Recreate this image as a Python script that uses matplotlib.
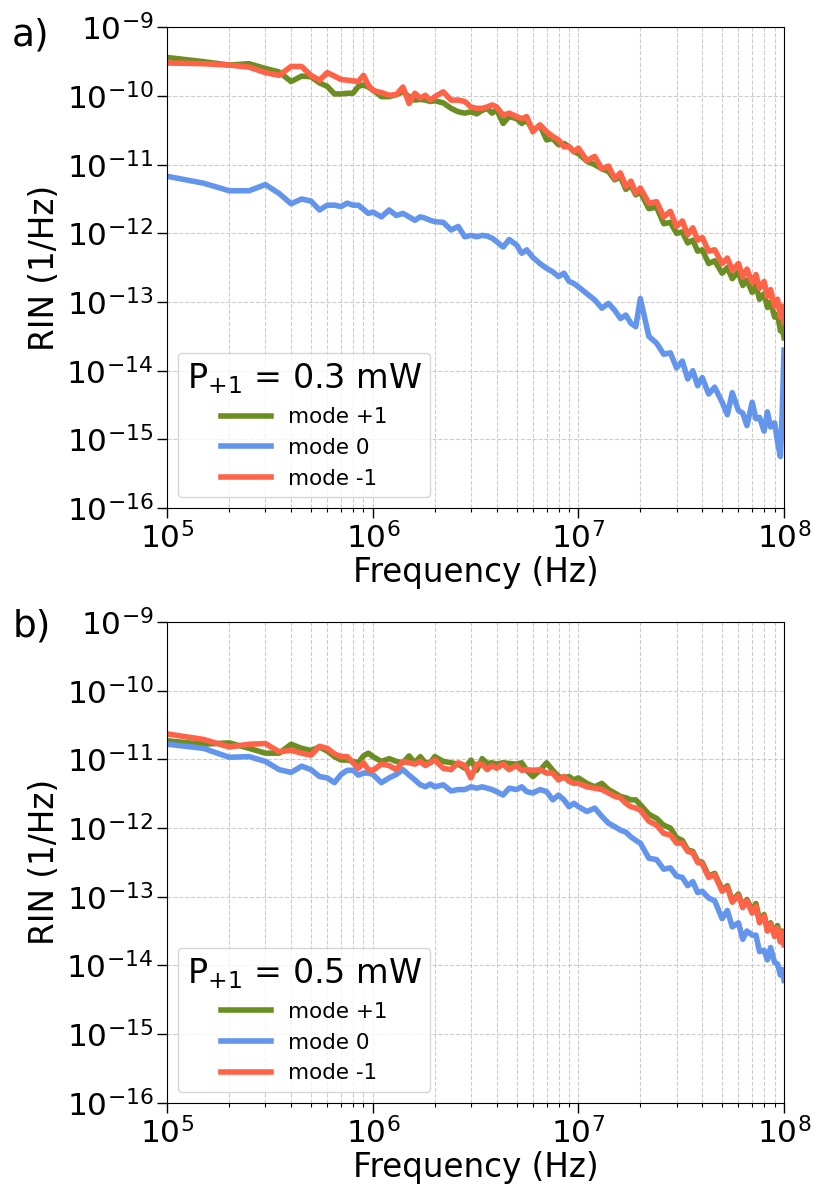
#!/usr/bin/env python3
from __future__ import annotations

import matplotlib

matplotlib.use("Agg")
import matplotlib.pyplot as plt
import numpy as np
from matplotlib.ticker import LogLocator, NullLocator


# Frequency grid in MHz, shared by both panels
FREQ_MHZ = [
    0.1, 0.15, 0.2, 0.25, 0.3, 0.35, 0.4, 0.45, 0.5, 0.55, 0.6, 0.65, 0.7, 0.75, 0.8, 0.85, 0.9, 0.95,
    1.0, 1.1, 1.2, 1.3, 1.4, 1.5, 1.6, 1.7, 1.8, 1.9,
    2.0, 2.2, 2.4, 2.6, 2.8, 3.0, 3.2, 3.4, 3.6, 3.8,
    4.0, 4.3, 4.6, 5.0, 5.3, 5.6, 6.0, 6.5, 7.0, 7.5, 8.0, 8.5, 9.0, 9.5,
    10, 11, 12, 13, 14, 15, 16, 17, 18, 19,
    20, 22, 24, 26, 28, 30, 32, 34, 36, 38,
    40, 43, 46, 50, 53, 56, 60, 63, 66, 70, 73, 76, 80, 83, 86, 90, 93, 96, 98, 100,
]

# log10(RIN), panel a) P+1 = 0.3 mW
A_MODE_P1 = [
    -9.44, -9.50, -9.55, -9.53, -9.60, -9.65, -9.79, -9.71, -9.72, -9.81, -9.86, -9.97, -9.97, -9.96, -9.96, -9.86, -9.84, -9.87,
    -9.91, -10.01, -10.01, -9.98, -9.94, -10.01, -10.06, -10.05, -10.06, -10.08,
    -10.07, -10.10, -10.18, -10.23, -10.25, -10.23, -10.26, -10.21, -10.18, -10.25,
    -10.20, -10.40, -10.30, -10.33, -10.40, -10.35, -10.50, -10.43, -10.64, -10.62, -10.71, -10.69, -10.74, -10.81,
    -10.84, -10.95, -11.00, -11.06, -11.10, -11.22, -11.18, -11.36, -11.30, -11.44,
    -11.40, -11.64, -11.62, -11.86, -11.84, -12.00, -11.98, -12.14, -12.10, -12.26,
    -12.24, -12.44, -12.40, -12.58, -12.50, -12.66, -12.56, -12.76, -12.68, -12.86,
    -12.76, -12.96, -12.88, -13.08, -13.00, -13.22, -13.18, -13.42, -13.36, -13.52,
]
A_MODE_0 = [
    -11.17, -11.27, -11.38, -11.38, -11.29, -11.42, -11.57, -11.50, -11.53, -11.66, -11.59, -11.59, -11.61, -11.56, -11.59, -11.59, -11.65, -11.71,
    -11.69, -11.76, -11.66, -11.74, -11.71, -11.76, -11.81, -11.76, -11.78, -11.81,
    -11.83, -11.84, -11.95, -11.90, -12.05, -12.03, -12.05, -12.03, -12.04, -12.07,
    -12.12, -12.20, -12.09, -12.17, -12.29, -12.24, -12.35, -12.44, -12.51, -12.56, -12.63, -12.58, -12.70, -12.73,
    -12.78, -12.88, -12.97, -13.09, -13.02, -13.12, -13.24, -13.19, -13.31, -13.36,
    -12.95, -13.50, -13.60, -13.76, -13.74, -13.96, -13.86, -14.12, -14.00, -14.22,
    -14.10, -14.34, -14.24, -14.46, -14.64, -14.32, -14.58, -14.62, -14.80, -14.46,
    -14.70, -14.68, -14.88, -14.60, -14.82, -14.76, -15.04, -15.25, -14.60, -13.70,
]
A_MODE_M1 = [
    -9.52, -9.53, -9.55, -9.58, -9.66, -9.70, -9.57, -9.57, -9.70, -9.77, -9.66, -9.71, -9.76, -9.77, -9.78, -9.79, -9.70, -9.84,
    -9.92, -9.95, -9.99, -9.98, -9.87, -10.11, -9.96, -10.03, -9.99, -10.06,
    -10.01, -9.94, -10.06, -10.06, -10.08, -10.16, -10.18, -10.18, -10.16, -10.13,
    -10.16, -10.28, -10.25, -10.30, -10.33, -10.30, -10.52, -10.42, -10.52, -10.59, -10.64, -10.74, -10.74, -10.81,
    -10.76, -10.94, -10.88, -11.06, -11.02, -11.20, -11.12, -11.32, -11.24, -11.42,
    -11.34, -11.56, -11.54, -11.76, -11.68, -11.90, -11.82, -12.02, -11.92, -12.10,
    -12.06, -12.26, -12.24, -12.44, -12.36, -12.54, -12.44, -12.64, -12.52, -12.72,
    -12.60, -12.80, -12.70, -12.92, -12.82, -13.06, -12.96, -13.22, -13.06, -13.30,
]

# log10(RIN), panel b) P+1 = 0.5 mW
B_MODE_P1 = [
    -10.73, -10.78, -10.76, -10.84, -10.91, -10.91, -10.78, -10.84, -10.87, -10.82, -10.88, -10.96, -11.01, -11.01, -11.03, -11.05, -10.95, -10.91,
    -10.96, -11.03, -10.99, -11.03, -11.05, -10.95, -11.05, -10.96, -11.05, -11.05,
    -10.96, -11.03, -11.05, -11.07, -11.13, -11.01, -11.16, -10.99, -11.06, -11.05,
    -11.07, -11.05, -11.06, -11.07, -11.05, -11.16, -11.25, -11.16, -11.05, -11.16, -11.25, -11.27, -11.25, -11.30,
    -11.27, -11.35, -11.40, -11.35, -11.44, -11.49, -11.54, -11.56, -11.59, -11.59,
    -11.66, -11.80, -11.86, -11.96, -12.00, -12.14, -12.18, -12.32, -12.34, -12.48,
    -12.50, -12.70, -12.66, -12.90, -12.84, -13.06, -12.96, -13.14, -13.04, -13.20,
    -13.10, -13.34, -13.26, -13.48, -13.38, -13.54, -13.42, -13.62, -13.50, -13.66,
]
B_MODE_0 = [
    -10.78, -10.84, -10.97, -10.96, -11.03, -11.15, -11.19, -11.10, -11.15, -11.25, -11.27, -11.34, -11.22, -11.16, -11.16, -11.23, -11.20, -11.20,
    -11.22, -11.34, -11.27, -11.22, -11.15, -11.23, -11.30, -11.37, -11.40, -11.36,
    -11.40, -11.37, -11.46, -11.44, -11.44, -11.40, -11.42, -11.40, -11.42, -11.44,
    -11.47, -11.52, -11.42, -11.44, -11.40, -11.47, -11.49, -11.44, -11.47, -11.59, -11.52, -11.59, -11.69, -11.64,
    -11.69, -11.76, -11.71, -11.83, -11.93, -11.98, -12.03, -12.06, -12.13, -12.18,
    -12.22, -12.44, -12.46, -12.60, -12.58, -12.70, -12.72, -12.84, -12.78, -12.94,
    -12.92, -13.02, -13.06, -13.32, -13.20, -13.44, -13.38, -13.62, -13.50, -13.56,
    -13.56, -13.80, -13.78, -13.92, -13.74, -13.96, -13.98, -14.14, -14.06, -14.22,
]
B_MODE_M1 = [
    -10.63, -10.71, -10.82, -10.78, -10.77, -10.89, -10.87, -10.91, -10.94, -10.81, -10.84, -10.92, -10.96, -10.96, -11.05, -11.13, -11.05, -11.15,
    -11.16, -11.07, -11.09, -11.15, -11.03, -11.05, -11.07, -11.03, -11.09, -11.05,
    -11.01, -11.13, -11.15, -11.05, -11.09, -11.27, -11.07, -11.07, -11.15, -11.09,
    -11.13, -11.07, -11.15, -11.09, -11.16, -11.15, -11.16, -11.15, -11.20, -11.20, -11.30, -11.25, -11.32, -11.35,
    -11.35, -11.40, -11.42, -11.44, -11.49, -11.54, -11.56, -11.64, -11.69, -11.71,
    -11.74, -11.90, -11.96, -12.08, -12.10, -12.22, -12.22, -12.34, -12.36, -12.50,
    -12.52, -12.72, -12.68, -12.92, -12.86, -13.08, -12.98, -13.16, -13.06, -13.24,
    -13.14, -13.38, -13.28, -13.50, -13.40, -13.58, -13.46, -13.66, -13.52, -13.70,
]

SERIES_LABELS = ["mode +1", "mode 0", "mode -1"]
PANEL_TITLES = [r"P$_{+1}$ = 0.3 mW", r"P$_{+1}$ = 0.5 mW"]
PANEL_TAGS = ["a)", "b)"]

COLORS = ["olivedrab", "cornflowerblue", "tomato"]


def draw_panel(ax, freq_hz, series, title) -> None:
    for label, values, color in zip(SERIES_LABELS, series, COLORS):
        ax.plot(freq_hz, 10.0 ** np.asarray(values), color=color, lw=4, label=label)

    ax.set_xscale("log")
    ax.set_yscale("log")
    ax.set_xlim(1e5, 1e8)
    ax.set_ylim(1e-16, 1e-9)

    ax.yaxis.set_major_locator(LogLocator(base=10, numticks=20))
    ax.yaxis.set_minor_locator(NullLocator())
    ax.xaxis.set_major_locator(LogLocator(base=10, numticks=20))
    ax.xaxis.set_minor_locator(LogLocator(base=10, subs=np.arange(2, 10), numticks=20))

    ax.grid(which="both", linestyle="--", color="#cccccc", linewidth=0.8)
    ax.set_axisbelow(True)

    ax.set_xlabel("Frequency (Hz)", fontsize=23.5, labelpad=1)
    ax.set_ylabel("RIN (1/Hz)", fontsize=23.5)
    ax.tick_params(which="major", labelsize=22.5, length=7.5, width=1, pad=2.5)
    ax.tick_params(which="minor", length=3, width=0.8)

    ax.legend(
        loc="lower left",
        title=title,
        title_fontsize=24,
        fontsize=15.5,
        handlelength=2.3,
    )


def main() -> None:
    freq_hz = np.asarray(FREQ_MHZ) * 1e6

    fig = plt.figure(figsize=(8.15, 11.87), dpi=100)
    ax_a = fig.add_axes([0.2053, 0.572, 0.7567, 0.405])
    ax_b = fig.add_axes([0.2053, 0.071, 0.7567, 0.405])

    draw_panel(ax_a, freq_hz, [A_MODE_P1, A_MODE_0, A_MODE_M1], PANEL_TITLES[0])
    draw_panel(ax_b, freq_hz, [B_MODE_P1, B_MODE_0, B_MODE_M1], PANEL_TITLES[1])

    fig.text(0.015, 0.970, PANEL_TAGS[0], fontsize=27, va="center")
    fig.text(0.015, 0.472, PANEL_TAGS[1], fontsize=27, va="center")

    fig.savefig("out.png", dpi=100)
    plt.close(fig)


if __name__ == "__main__":
    main()
